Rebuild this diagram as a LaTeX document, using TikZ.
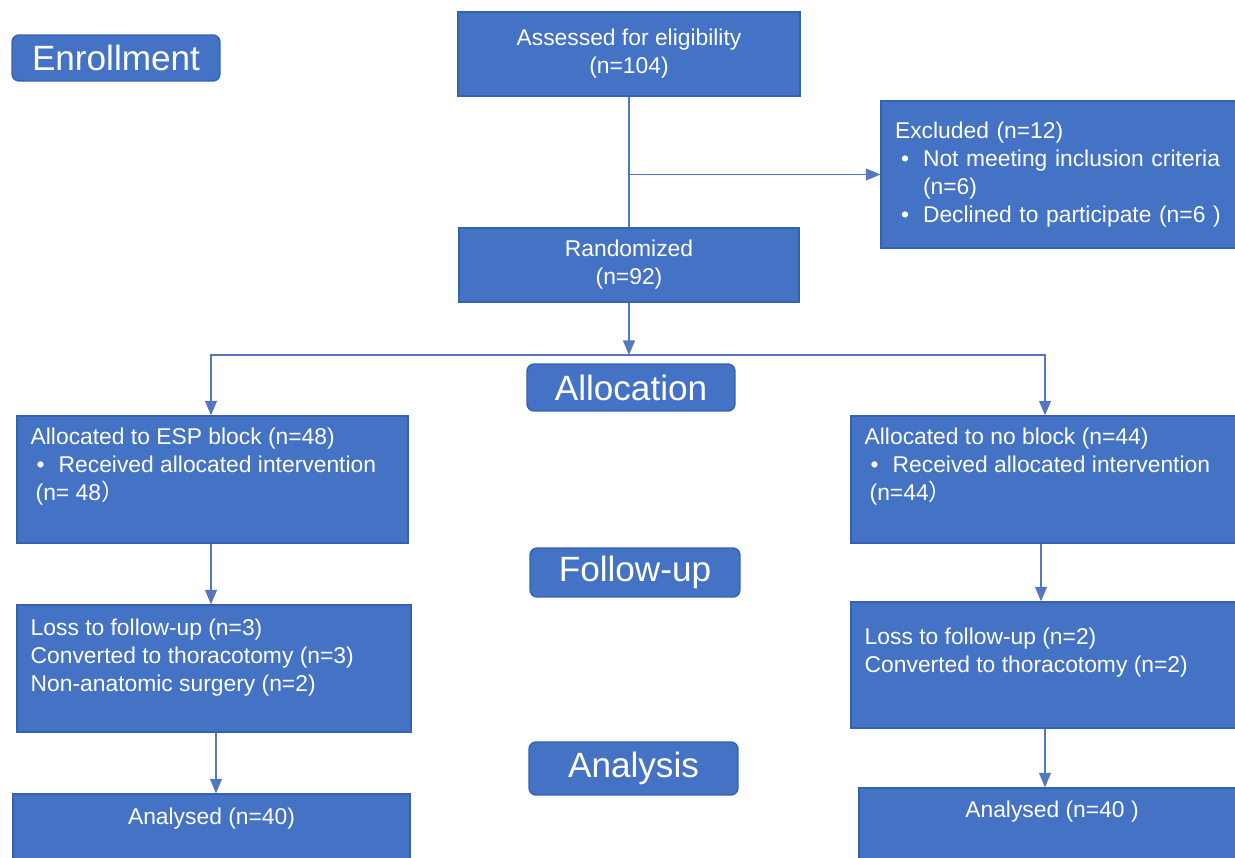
\documentclass[tikz,border=0pt]{standalone}
\usepackage{fontspec}
\setmainfont{Liberation Sans}
\newfontfamily\cjk{Noto Sans CJK SC}
\usepackage{tikz}
\usetikzlibrary{arrows, positioning, calc}
\definecolor{boxblue}{HTML}{4472C4}
\definecolor{edgeblue}{HTML}{3561AE}
\definecolor{lineblue}{HTML}{5677BF}
\newcommand{\blt}{\makebox[0.56cm][l]{\hspace{0.12cm}\textbullet}}
\tikzset{
  box/.style={
    rectangle,
    draw=edgeblue,
    line width=0.8pt,
    fill=boxblue,
    text=white,
    align=center,
    inner sep=0pt,
    font=\fontsize{13}{15.9}\selectfont
  },
  stage/.style={
    box,
    rounded corners=4pt,
    minimum width=4.16cm,
    font=\fontsize{20}{24}\selectfont
  },
  txt/.style={
    text=white,
    align=left,
    inner sep=0pt,
    font=\fontsize{13}{15.9}\selectfont
  },
  arrow/.style={
    draw=lineblue,
    line width=0.9pt,
    ->,
    >=triangle 45
  }
}

\begin{document}
\begin{tikzpicture}[x=0.02cm, y=-0.02cm]
\clip (0,0) rectangle (1235,858);

% Stages
\node (enroll) [stage, minimum height=0.92cm] at (116,58) {Enrollment};
\node (alloc) [stage, minimum height=0.94cm] at (631,387.5) {Allocation};
\node (follow) [stage, minimum width=4.2cm, minimum height=0.98cm] at (635,572.5) {Follow-up};
\node (analysis) [stage, minimum width=4.18cm, minimum height=1.06cm] at (633.5,768.5) {Analysis};

% Nodes
\node (assess) [box, minimum width=6.84cm, minimum height=1.68cm] at (629,54) {Assessed for eligibility\\(n=104)};
\node (excl) [box, minimum width=7.28cm, minimum height=2.94cm, inner xsep=0.28cm, text width=6.72cm, align=left] at (1063,174.5)
  {Excluded (n=12)\\\blt Not meeting inclusion criteria\\\hspace*{0.56cm}(n=6)\\\blt Declined to participate (n=6 )};
\node (rand) [box, minimum width=6.8cm, minimum height=1.48cm] at (629,265) {Randomized\\(n=92)};

\node (esp) [box, minimum width=7.82cm, minimum height=2.54cm] at (212.5,479.5) {};
\node (esptxt) [txt, below right=0.25cm and 0.28cm of esp.north west]
  {Allocated to ESP block (n=48)\\\blt Received allocated intervention\\\hspace*{0.1cm}(n= 48{\cjk ）}};
\node (noblk) [box, minimum width=7.88cm, minimum height=2.54cm] at (1048,479.5) {};
\node (noblktxt) [txt, below right=0.25cm and 0.28cm of noblk.north west]
  {Allocated to no block (n=44)\\\blt Received allocated intervention\\\hspace*{0.1cm}(n=44{\cjk ）}};

\node (lossl) [box, minimum width=7.88cm, minimum height=2.54cm] at (214,668.5) {};
\node (lossltxt) [txt, below right=0.28cm and 0.28cm of lossl.north west]
  {Loss to follow-up (n=3)\\Converted to thoracotomy (n=3)\\Non-anatomic surgery (n=2)};
\node (lossr) [box, minimum width=7.88cm, minimum height=2.52cm] at (1048,665) {};
\node (lossrtxt) [txt, below right=0.52cm and 0.28cm of lossr.north west]
  {Loss to follow-up (n=2)\\Converted to thoracotomy (n=2)};

\node (anll) [box, minimum width=7.94cm, minimum height=1.72cm] at (211.5,837) {};
\node (anlltxt) [txt, below=0.28cm of anll.north] {Analysed (n=40)};
\node (anlr) [box, minimum width=7.72cm, minimum height=1.84cm] at (1052,834) {};
\node (anlrtxt) [txt, below=0.26cm of anlr.north] {Analysed (n=40 )};

\coordinate (split) at (629,355);

% Arrows
\draw [draw=lineblue, line width=0.9pt] (assess) -- (rand);
\draw [arrow] (assess.south |- excl.west) -- (excl.west);
\draw [arrow] (rand) -- (split);
\draw [arrow] (split) -| ([xshift=-0.06cm]noblk.north);
\draw [arrow] (split) -| ([xshift=-0.03cm]esp.north);
\draw [arrow] ([xshift=-0.03cm]esp.south) -- ([xshift=-0.03cm]esp.south |- lossl.north);
\draw [arrow] ([xshift=-0.14cm]noblk.south) -- ([xshift=-0.14cm]noblk.south |- lossr.north);
\draw [arrow] ([xshift=0.04cm]lossl.south) -- ([xshift=0.04cm]lossl.south |- anll.north);
\draw [arrow] ([xshift=-0.06cm]lossr.south) -- ([xshift=-0.06cm]lossr.south |- anlr.north);
\end{tikzpicture}
\end{document}
